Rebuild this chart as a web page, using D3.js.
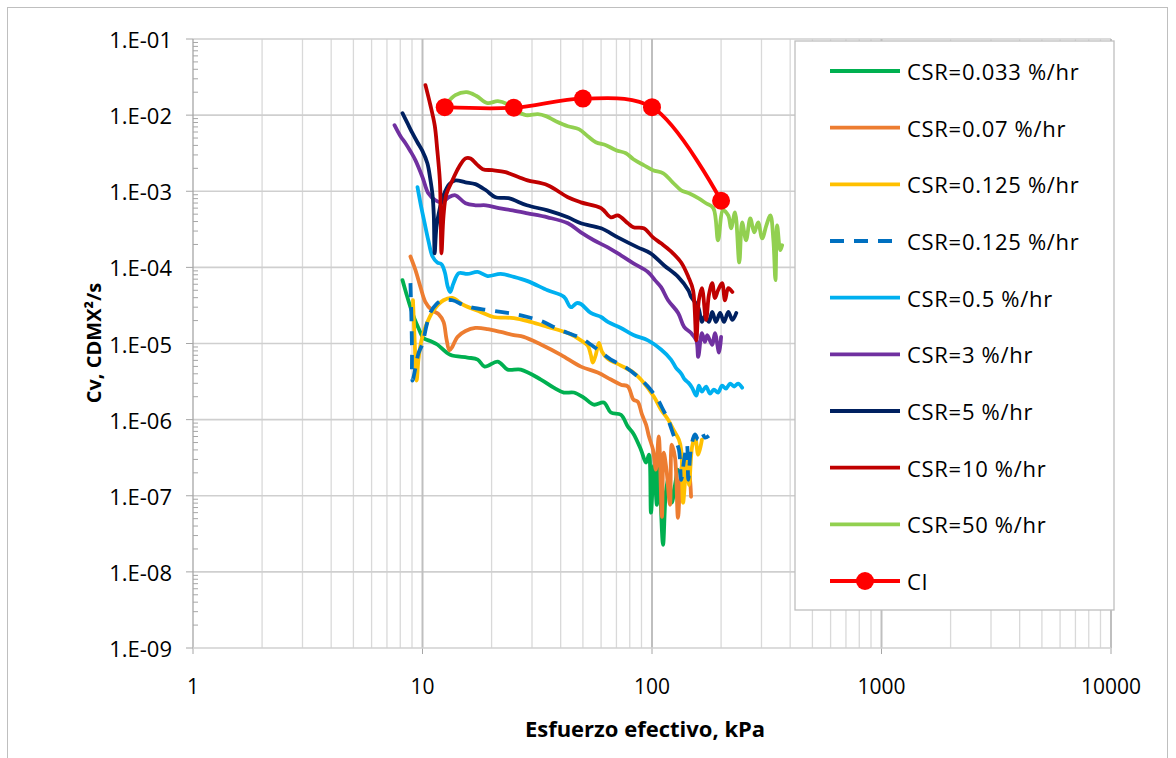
<!DOCTYPE html>
<html><head><meta charset="utf-8">
<script src="https://cdn.jsdelivr.net/npm/d3@7"></script>
<style>
html,body{margin:0;padding:0;background:#fff;}
svg text{font-family:"Open Sans","Liberation Sans",sans-serif;fill:#000;}
</style></head>
<body>
<svg id="chart" width="1176" height="758"></svg>
<script>
// ---------- DATA (Esfuerzo efectivo kPa, Cv) ----------
const seriesNames = ["CSR=0.033 %/hr","CSR=0.07 %/hr","CSR=0.125 %/hr","CSR=0.125 %/hr","CSR=0.5 %/hr","CSR=3 %/hr","CSR=5 %/hr","CSR=10 %/hr","CSR=50 %/hr","CI"];
const seriesColors = ["#00B050","#ED7D31","#FFC000","#0070C0","#00B0F0","#7030A0","#002060","#C00000","#92D050","#FF0000"];

const x_0033 = [8.18,8.51,8.86,9.23,9.6,10.1,10.8,11.6,13.2,15.7,17.4,18.65,21.3,23.5,26.8,32.8,37.3,41.3,45.6,50.4,55.8,61.7,66.2,73.2,78.5,83,89.5,94.2,97,99,102,105,107,111.7,114.9,118.6,122,126,129];
const cv_0033 = [6.8e-5,4.48e-5,3.0e-5,2.1e-5,1.6e-5,1.18e-5,1.08e-5,9.7e-6,7.1e-6,6.54e-6,6.15e-6,4.97e-6,5.79e-6,4.54e-6,4.54e-6,3.36e-6,2.63e-6,2.27e-6,2.27e-6,1.95e-6,1.57e-6,1.68e-6,1.24e-6,1.16e-6,8.1e-7,6.54e-7,4.03e-7,2.72e-7,3.46e-7,6.0e-8,2.48e-7,7.6e-8,2.8e-7,2.27e-8,1.1e-7,1.83e-7,8.1e-8,1.39e-7,2.2e-7];

const x_007 = [8.86,9.32,9.8,10.3,10.95,11.75,12.35,12.7,13.1,13.5,14.2,15.4,17,19.2,21.9,25,27.6,32.8,40.1,49,58,66.2,73.2,78.5,83,86.7,90.5,94.2,97,101,104,107,110.5,112.5,115.6,119.8,122,126,129.8,134,138,142,145,148];
const cv_007 = [1.39e-4,9.2e-5,5.5e-5,3.5e-5,2.76e-5,2.44e-5,1.92e-5,1.18e-5,8.1e-6,9.1e-6,1.22e-5,1.46e-5,1.6e-5,1.55e-5,1.42e-5,1.29e-5,1.22e-5,9.7e-6,7.1e-6,4.97e-6,4.15e-6,3.36e-6,2.88e-6,2.72e-6,1.83e-6,1.72e-6,1.16e-6,8.6e-7,6.0e-7,4.03e-7,2.2e-7,6.0e-7,5.28e-8,3.67e-7,2.2e-7,7.6e-8,4.7e-7,3.16e-7,5.13e-8,2.2e-7,2.97e-7,1.62e-7,2.2e-7,9.7e-8];

const x_0125a = [9.09,9.23,9.43,9.6,9.9,10.3,11.2,12.35,13.5,15.1,17.9,20.4,25,29.6,35.1,43,49,52.5,54.1,55.2,56.9,58.7,60.5,64,73.2,83,92,102,109.5,117.5,124.7,131,134,136.6,142,145,149.5,154,159,165];
const cv_0125a = [3.7e-5,1.22e-5,3.26e-6,6.15e-6,1.11e-5,1.65e-5,2.76e-5,3.7e-5,3.96e-5,3.2e-5,2.6e-5,2.23e-5,2.16e-5,1.92e-5,1.65e-5,1.37e-5,1.1e-5,9.4e-6,7.1e-6,5.6e-6,7.1e-6,1.02e-5,7.84e-6,6.35e-6,5.13e-6,4.15e-6,3.06e-6,2.0e-6,1.35e-6,1.0e-6,7.14e-7,5.45e-7,4.03e-7,8.1e-8,2.97e-7,1.39e-7,4.4e-7,6.0e-7,3.46e-7,5.45e-7];

const x_0125b = [8.86,8.95,9.0,9.04,9.32,9.6,10,10.4,10.8,11.5,12.2,13.5,15.1,16.7,19.2,21.9,25.2,28.7,32.8,37.3,43,49,54.1,58,66.2,76,86.7,96,106,111.7,117.5,124.7,131,134,138,142,144,148,154,159,165,170,177];
const cv_0125b = [6.2e-5,2.04e-5,8.33e-6,3.26e-6,4.83e-6,7.38e-6,1.0e-5,1.7e-5,2.52e-5,3.3e-5,3.7e-5,3.7e-5,3.2e-5,2.93e-5,2.76e-5,2.6e-5,2.44e-5,2.23e-5,1.98e-5,1.65e-5,1.37e-5,1.18e-5,9.7e-6,8.33e-6,6.15e-6,4.97e-6,3.67e-6,2.72e-6,1.83e-6,1.35e-6,1.0e-6,6.0e-7,4.03e-7,1.62e-7,2.97e-7,4.7e-7,1.62e-7,4.28e-7,6.4e-7,5.45e-7,6.7e-7,5.79e-7,6.15e-7];

const x_05 = [9.51,9.8,10.2,10.6,11.06,11.6,12.1,12.5,12.9,13.2,13.65,14.4,15.7,17.4,19.2,21.9,25.0,28.7,35.1,41.3,44.3,47,49,54.1,60,64.2,73.2,83,96,109.5,121,127,134,139,144,149.5,156,160,165,172,179,186,194,202,210,219,228,237,247];
const cv_05 = [1.13e-3,6.95e-4,3.9e-4,2.27e-4,1.39e-4,1.16e-4,1.1e-4,8.7e-5,5.5e-5,4.75e-5,6.2e-5,8.4e-5,8.2e-5,8.7e-5,7.7e-5,8.2e-5,7.5e-5,6.6e-5,5.0e-5,4.1e-5,3.0e-5,3.4e-5,3.3e-5,2.52e-5,2.23e-5,1.92e-5,1.6e-5,1.29e-5,1.1e-5,8.33e-6,6.15e-6,4.83e-6,4.03e-6,3.36e-6,3.06e-6,2.63e-6,2.07e-6,2.8e-6,2.33e-6,2.72e-6,2.2e-6,2.48e-6,2.27e-6,2.8e-6,2.55e-6,2.97e-6,2.72e-6,2.97e-6,2.63e-6];

const x_3 = [7.55,8.02,8.43,8.86,9.32,10,10.6,11.4,12.2,13.0,13.9,15.4,17.0,18.9,21.5,24.7,28.7,35.1,43,49,55.8,64.2,73.2,83,96,103,109.5,117.5,130,138,148,156,159,165,170,174,183,188,196,200];
const cv_3 = [7.38e-3,5.28e-3,4.28e-3,3.36e-3,2.55e-3,1.53e-3,9.4e-4,7.6e-4,7.15e-4,8.33e-4,8.85e-4,6.95e-4,6.54e-4,6.54e-4,6.0e-4,5.6e-4,5.13e-4,4.54e-4,3.79e-4,2.88e-4,2.27e-4,1.83e-4,1.44e-4,1.13e-4,8.7e-5,6.8e-5,5.5e-5,3.7e-5,2.52e-5,1.65e-5,1.37e-5,1.1e-5,6.7e-6,1.37e-5,1.05e-5,1.29e-5,9.6e-6,1.37e-5,7.6e-6,1.22e-5];

const x_5 = [8.18,8.6,9.04,9.5,10,10.5,10.8,11.06,11.2,11.3,11.5,11.9,12.35,13.1,13.9,15.4,17.0,18.9,20.8,23.7,28.5,35.1,43,49,60,71,86.7,98.6,113,130,144,148,159,165,170,177,183,190,198,206,215,224,233];
const cv_5 = [1.06e-2,7.84e-3,5.79e-3,4.4e-3,3.36e-3,2.33e-3,1.48e-3,8.85e-4,4.83e-4,1.53e-4,3.36e-4,6.0e-4,8.85e-4,1.24e-3,1.39e-3,1.31e-3,1.24e-3,1.03e-3,8.33e-4,8.1e-4,6.54e-4,5.6e-4,4.54e-4,3.79e-4,3.26e-4,2.48e-4,1.83e-4,1.53e-4,1.06e-4,7.5e-5,5.0e-5,4.1e-5,3.0e-5,1.92e-5,2.3e-5,1.92e-5,2.6e-5,1.92e-5,2.52e-5,1.92e-5,2.6e-5,2.04e-5,2.52e-5];

const x_10 = [10.3,10.8,11.3,11.6,11.9,12.0,12.1,12.35,12.7,13.5,14.4,15.4,16.2,17.2,18.3,20.2,23.0,26.3,28.7,35.1,43,49,60,66.2,71,78.5,83,92,101,109.5,121,134,144,151,156,160,165,172,177,183,188,194,202,208,215,224];
const cv_10 = [2.48e-2,1.39e-2,7.38e-3,3.46e-3,1.39e-3,5.6e-4,1.53e-4,4.8e-4,9.1e-4,1.39e-3,2.07e-3,2.7e-3,2.7e-3,2.27e-3,1.95e-3,1.89e-3,1.78e-3,1.53e-3,1.39e-3,1.2e-3,8.33e-4,7.15e-4,6.0e-4,4.54e-4,4.83e-4,3.79e-4,3.36e-4,3.26e-4,2.48e-4,2.07e-4,1.62e-4,1.16e-4,7.5e-5,5.0e-5,1.1e-5,3.7e-5,5.35e-5,2.04e-5,4.34e-5,6.2e-5,3.96e-5,5.0e-5,6.2e-5,3.7e-5,5.35e-5,4.75e-5];

const x_50 = [12.9,13.9,15.6,17.2,19.2,21.3,23.5,25.5,28.2,31.8,34.5,38.1,43.0,48,52.5,56.9,63,69.7,77,83,92,101,112,123,134,145,159,172,185,194,204,215,221,230,240,247,257,268,279,290,302,315,328,338,345,351,362,369];
const cv_50 = [1.48e-2,1.83e-2,2.0e-2,1.78e-2,1.44e-2,1.53e-2,1.39e-2,1.16e-2,1.0e-2,1.03e-2,9.7e-3,8.33e-3,7.15e-3,6.54e-3,5.28e-3,4.4e-3,4.03e-3,3.46e-3,3.16e-3,2.63e-3,2.2e-3,1.89e-3,1.72e-3,1.31e-3,1.03e-3,9.4e-4,8.1e-4,6.95e-4,6.0e-4,2.27e-4,5.6e-4,4.8e-4,3.26e-4,5.28e-4,1.16e-4,3.9e-4,2.27e-4,4.4e-4,2.88e-4,3.9e-4,2.4e-4,3.56e-4,4.83e-4,2.27e-4,6.8e-5,3.56e-4,1.68e-4,1.95e-4];

const x_CI = [12.5,25,50,100,200];
const cv_CI = [1.27e-2,1.25e-2,1.65e-2,1.27e-2,7.5e-4];

const xTicks = [1,10,100,1000,10000];
const yTicks = [1e-9,1e-8,1e-7,1e-6,1e-5,1e-4,1e-3,1e-2,1e-1];
const xTitle = "Esfuerzo efectivo, kPa";
const yTitle = "Cv, CDMX²/s";

// ---------- BUILD ----------
const xs = [x_0033,x_007,x_0125a,x_0125b,x_05,x_3,x_5,x_10,x_50,x_CI];
const ys = [cv_0033,cv_007,cv_0125a,cv_0125b,cv_05,cv_3,cv_5,cv_10,cv_50,cv_CI];
const series = seriesNames.map((n,i)=>({
  name:n, color:seriesColors[i], dashed:i===3, markers:i===9,
  pts: xs[i].map((v,j)=>({x:v,y:ys[i][j]}))
}));

const svg = d3.select("#chart");
const L=193,R=1111,T=39,B=648;
const x = d3.scaleLog().domain([1,10000]).range([L,R]);
const y = d3.scaleLog().domain([1e-9,1e-1]).range([B,T]);

// outer chart border
svg.append("rect").attr("x",7.5).attr("y",7.5).attr("width",1160).attr("height",770)
  .attr("fill","#fff").attr("stroke","#BFBFBF").attr("stroke-width",1);

// minor vertical grid
const minorX=[];
for(let k=0;k<4;k++) for(let m=2;m<=9;m++) minorX.push(m*Math.pow(10,k));
const g = svg.append("g");
g.selectAll(".mx").data(minorX).join("line")
  .attr("x1",d=>x(d)).attr("x2",d=>x(d)).attr("y1",T).attr("y2",B)
  .attr("stroke","#D9D9D9").attr("stroke-width",1.3);
// horizontal grid
g.selectAll(".hy").data(yTicks.slice(1)).join("line")
  .attr("x1",L).attr("x2",R).attr("y1",d=>y(d)).attr("y2",d=>y(d))
  .attr("stroke","#CFCFCF").attr("stroke-width",1.6);
// major vertical grid
g.selectAll(".vx").data(xTicks.slice(1)).join("line")
  .attr("x1",d=>x(d)).attr("x2",d=>x(d)).attr("y1",T).attr("y2",B)
  .attr("stroke","#BFBFBF").attr("stroke-width",2);

// axes
const minorY=[];
for(let k=-9;k<-1;k++) for(let m=2;m<=9;m++) minorY.push(m*Math.pow(10,k));
const ax = svg.append("g");
ax.selectAll(".myt").data(minorY).join("line")
  .attr("x1",L).attr("x2",L+5).attr("y1",d=>y(d)).attr("y2",d=>y(d))
  .attr("stroke","#A6A6A6").attr("stroke-width",1);
ax.selectAll(".Myt").data(yTicks).join("line")
  .attr("x1",L-7).attr("x2",L).attr("y1",d=>y(d)).attr("y2",d=>y(d))
  .attr("stroke","#A6A6A6").attr("stroke-width",1);
ax.selectAll(".Mxt").data(xTicks).join("line")
  .attr("x1",d=>x(d)).attr("x2",d=>x(d)).attr("y1",B).attr("y2",B+6)
  .attr("stroke","#A6A6A6").attr("stroke-width",1);
ax.append("line").attr("x1",L).attr("x2",L).attr("y1",T).attr("y2",B).attr("stroke","#A6A6A6").attr("stroke-width",1.3);
ax.append("line").attr("x1",L).attr("x2",R).attr("y1",B).attr("y2",B).attr("stroke","#D0D0D0").attr("stroke-width",1.5);

const fmtY = d => { const e=Math.round(Math.log10(d)); return "1.E"+(e<0?"-":"+")+String(Math.abs(e)).padStart(2,"0"); };
ax.selectAll(".yl").data(yTicks).join("text")
  .attr("x",L-21).attr("y",d=>y(d)).attr("text-anchor","end").attr("dominant-baseline","central")
  .style("font-size","22px").text(fmtY);
ax.selectAll(".xl").data(xTicks).join("text")
  .attr("x",d=>x(d)).attr("y",B+38).attr("text-anchor","middle").attr("dominant-baseline","central")
  .style("font-size","21px").text(d=>String(d));

svg.append("text").attr("x",645).attr("y",728).attr("text-anchor","middle").attr("dominant-baseline","central")
  .style("font-size","22px").style("font-weight","bold").text(xTitle);
svg.append("text").attr("transform","translate(93,343) rotate(-90)").attr("text-anchor","middle").attr("dominant-baseline","central")
  .style("font-size","20px").style("font-weight","bold").text(yTitle);

// series
const line = d3.line().x(d=>x(d.x)).y(d=>y(d.y)).curve(d3.curveCatmullRom.alpha(0.5));
const sg = svg.append("g");
series.forEach(s=>{
  sg.append("path").attr("d",line(s.pts)).attr("fill","none")
    .attr("stroke",s.color).attr("stroke-width",3.8)
    .attr("stroke-linejoin","round").attr("stroke-linecap", s.dashed?"butt":"round")
    .attr("stroke-dasharray", s.dashed?"14,10":null);
  if(s.markers){
    sg.selectAll(null).data(s.pts).join("circle")
      .attr("cx",d=>x(d.x)).attr("cy",d=>y(d.y)).attr("r",9).attr("fill",s.color);
  }
});

// legend
const lg = svg.append("g");
lg.append("rect").attr("x",795).attr("y",41).attr("width",319).attr("height",569)
  .attr("fill","#fff").attr("stroke","#BFBFBF").attr("stroke-width",1.3);
const ly = d3.scaleLinear().domain([0,series.length-1]).range([71,581]);
series.forEach((s,i)=>{
  const yy = ly(i);
  lg.append("line").attr("x1",830).attr("x2",900).attr("y1",yy).attr("y2",yy)
    .attr("stroke",s.color).attr("stroke-width",3.8)
    .attr("stroke-dasharray", s.dashed?"14,10":null);
  if(s.markers) lg.append("circle").attr("cx",865).attr("cy",yy).attr("r",9).attr("fill",s.color);
  lg.append("text").attr("x",907).attr("y",yy).attr("dominant-baseline","central")
    .style("font-size","22px").style("letter-spacing","0.7px").text(s.name);
});
</script>
</body></html>
